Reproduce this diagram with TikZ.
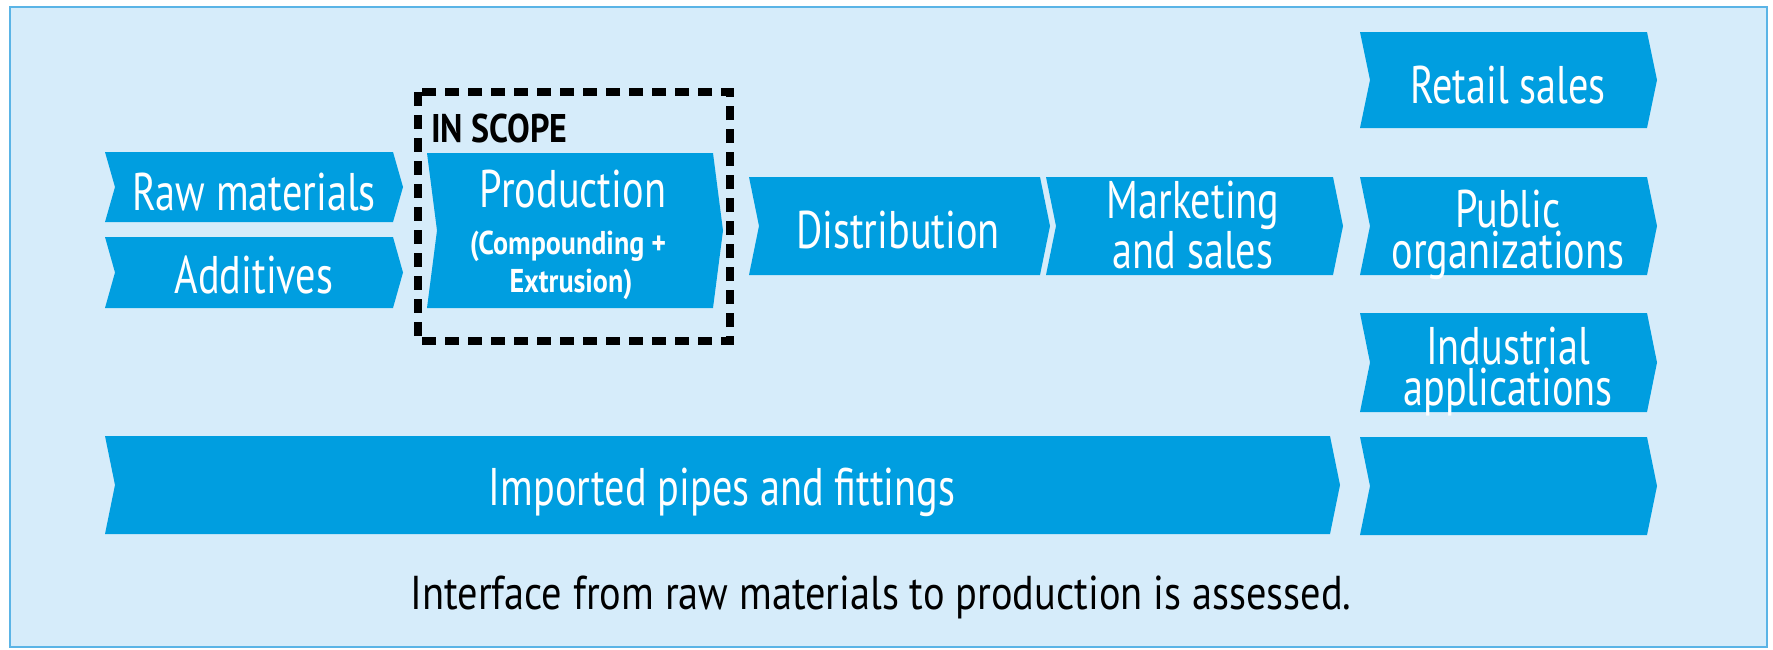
\documentclass[tikz,border=0pt]{standalone}
\usepackage{fontspec}
\setmainfont{PT Sans}[FakeStretch=0.76]
\newfontfamily\widefont{PT Sans}[FakeStretch=0.85]
\definecolor{chevc}{RGB}{0,158,224}
\definecolor{bgc}{RGB}{214,236,250}
\definecolor{framec}{RGB}{90,180,230}
\tikzset{
  chevfill/.style={fill=chevc},
  lbl/.style={text=white, inner sep=0pt, anchor=base, align=center, font=\fontsize{53}{41}\selectfont},
  sublbl/.style={text=white, inner sep=0pt, anchor=base, font=\widefont\fontsize{33}{40}\selectfont\bfseries},
  scopelbl/.style={text=black, inner sep=0pt, anchor=base west, font=\widefont\fontsize{40}{44}\selectfont\bfseries},
  caplbl/.style={text=black, inner sep=0pt, anchor=base, font=\widefont\fontsize{47.5}{52}\selectfont},
  scopebox/.style={draw=black, line width=8pt, dash pattern=on 14pt off 9pt},
}
% chevron: x1, x2, y1, y2
\newcommand{\chevron}[4]{%
  \fill[chevfill] (#1,#3) -- ({#2-10},#3) -- (#2,{(#3+#4)/2}) -- ({#2-10},#4) -- (#1,#4) -- ({#1+10},{(#3+#4)/2}) -- cycle;
}
\begin{document}
\begin{tikzpicture}[x=1pt,y=-1pt]
\useasboundingbox (0,0) rectangle (1773,649);
\fill[white] (0,0) rectangle (1773,649);
\draw[draw=framec, line width=2.5pt, fill=bgc] (10,7) rectangle (1767,647);

% chevrons
\chevron{105}{403}{152}{222}
\chevron{105}{403}{237}{308}
\chevron{427}{723}{153}{308}
\chevron{749}{1050}{177}{275}
\chevron{1046}{1343}{177}{275}
\chevron{1360}{1657}{32}{128}
\chevron{1360}{1657}{177}{275}
\chevron{1360}{1657}{313}{412}
\chevron{105}{1340}{436}{534}
\chevron{1360}{1657}{437}{535}

% scope box
\draw[scopebox] (418,92) rectangle (730,341);
\node[scopelbl] (scope) at (431,142) {IN SCOPE};

% labels (for two-line labels the anchor is the baseline of the last line)
\node[lbl] (raw) at (254,210) {Raw materials};
\node[lbl] (add) at (254,293) {Additives};
\node[lbl] (prod) at (573,207) {Production};
\node[sublbl] (prodb) at (568,254) {(Compounding +};
\node[sublbl] (prodc) at (571,292) {Extrusion)};
\node[lbl] (dist) at (898,248) {Distribution};
\node[lbl] (mkt) at (1193,268) {Marketing\\and sales};
\node[lbl] (retail) at (1508,103) {Retail sales};
\node[lbl] (pub) at (1508,268) {Public\\organizations};
\node[lbl] (ind) at (1508,405) {Industrial\\applications};
\node[lbl] (imp) at (722,505) {Imported pipes and fittings};
\node[caplbl] (caption) at (881,609) {Interface from raw materials to production is assessed.};
\end{tikzpicture}
\end{document}
